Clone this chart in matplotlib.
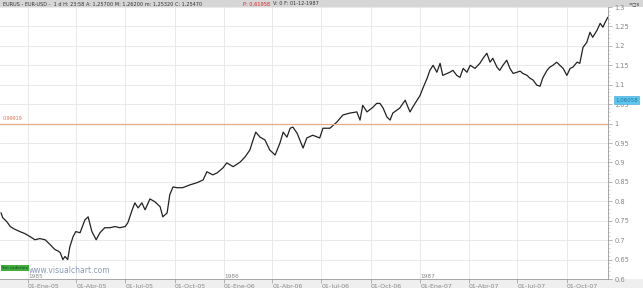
import matplotlib.pyplot as plt
from matplotlib.patches import Rectangle

# days counted from 01-Ene-05
days = [-50, -47, -39, -33, -26, -15, -6, 4, 13, 22, 32, 41, 50, 56, 60, 65, 69, 74, 78, 84,
        89, 97, 106, 112, 119, 127, 134, 143, 153, 162, 171, 181, 186, 194, 199, 205, 212, 218, 227, 236,
        246, 251, 259, 264, 270, 277, 288, 301, 315, 326, 333, 344, 352, 363, 370, 382, 395, 404, 413, 419,
        424, 432, 441, 450, 460, 469, 475, 482, 488, 493, 501, 506, 512, 519, 530, 543, 549, 562, 575, 586,
        599, 612, 618, 623, 631, 642, 649, 655, 661, 668, 674, 679, 687, 692, 702, 711, 716, 724, 730, 735,
        743, 748, 754, 761, 767, 772, 780, 785, 791, 798, 804, 810, 817, 823, 832, 841, 847, 854, 860, 865,
        873, 878, 884, 891, 897, 903, 910, 916, 921, 929, 934, 940, 947, 953, 958, 966, 971, 977, 984, 990,
        996, 1003, 1009, 1014, 1022, 1027, 1033, 1040, 1046, 1051, 1059, 1065, 1070, 1074, 1079]
price = [0.770, 0.758, 0.747, 0.735, 0.729, 0.722, 0.717, 0.709, 0.701, 0.704, 0.701, 0.689, 0.676, 0.672, 0.668, 0.650, 0.658, 0.650, 0.683, 0.709,
         0.722, 0.719, 0.752, 0.760, 0.722, 0.701, 0.719, 0.732, 0.732, 0.735, 0.732, 0.735, 0.745, 0.778, 0.796, 0.783, 0.796, 0.778, 0.806, 0.799,
         0.786, 0.760, 0.770, 0.817, 0.837, 0.835, 0.835, 0.842, 0.848, 0.855, 0.876, 0.868, 0.873, 0.886, 0.899, 0.889, 0.901, 0.914, 0.932, 0.958,
         0.978, 0.965, 0.958, 0.932, 0.919, 0.950, 0.978, 0.965, 0.988, 0.991, 0.975, 0.958, 0.937, 0.963, 0.970, 0.963, 0.988, 0.988, 1.004, 1.022,
         1.027, 1.030, 1.009, 1.047, 1.030, 1.042, 1.052, 1.052, 1.040, 1.017, 1.009, 1.027, 1.035, 1.040, 1.060, 1.030, 1.042, 1.060, 1.073, 1.091,
         1.117, 1.137, 1.150, 1.132, 1.155, 1.124, 1.129, 1.132, 1.137, 1.124, 1.119, 1.142, 1.132, 1.150, 1.142, 1.155, 1.168, 1.181, 1.158, 1.168,
         1.145, 1.137, 1.150, 1.163, 1.142, 1.129, 1.132, 1.135, 1.129, 1.124, 1.117, 1.112, 1.099, 1.096, 1.117, 1.137, 1.145, 1.150, 1.158, 1.150,
         1.142, 1.124, 1.142, 1.145, 1.158, 1.155, 1.196, 1.209, 1.235, 1.222, 1.240, 1.258, 1.248, 1.260, 1.273]

tick_days = [0, 90, 181, 273, 365, 455, 546, 638, 730, 820, 911, 1003]
tick_labels = ['01-Ene-05', '01-Abr-05', '01-Jul-05', '01-Oct-05', '01-Ene-06', '01-Abr-06',
               '01-Jul-06', '01-Oct-06', '01-Ene-07', '01-Abr-07', '01-Jul-07', '01-Oct-07']
year_days = [0, 365, 730]
year_labels = ['1985', '1986', '1987']
level = 1.0
level_label = '0,99919'
last_label = '1,06058'

fig = plt.figure(figsize=(6.43, 2.88), dpi=100, facecolor='white')

# header and bottom bands (behind the axes)
fig.patches.append(Rectangle((0, 1 - 7 / 288), 1, 7 / 288, transform=fig.transFigure,
                             facecolor='#d6d6d6', edgecolor='none', zorder=-5))
fig.patches.append(Rectangle((0, 0), 1, 9 / 288, transform=fig.transFigure,
                             facecolor='#efefef', edgecolor='none', zorder=-5))

ax = fig.add_axes([0, 9 / 288, 608 / 643, 272 / 288])
ax.patch.set_alpha(0)
ax.plot(days, price, color='#222222', lw=0.9)
ax.axhline(level, color='#e8a88a', lw=0.9)
ax.text(-48, level + 0.006, level_label, color='#e07050', fontsize=3.5, va='bottom')

ax.set_xlim(-52, 1079.5)
ax.set_ylim(0.6, 1.3)
ax.set_yticks([0.6 + 0.05 * i for i in range(15)])
ax.set_yticklabels(['%g' % round(0.6 + 0.05 * i, 2) for i in range(15)])
ax.set_yticks([0.6 + 0.01 * i for i in range(71)], minor=True)
ax.yaxis.tick_right()
ax.tick_params(axis='y', which='major', labelsize=4.8, labelcolor='#888888', color='#999999',
               length=3, width=0.5, pad=1.5)
ax.tick_params(axis='y', which='minor', color='#bbbbbb', length=1.5, width=0.4)
ax.set_xticks(tick_days)
ax.set_xticklabels(tick_labels, ha='left')
ax.tick_params(axis='x', labelsize=4.5, labelcolor='#888888', color='#999999',
               length=3, width=0.5, pad=0.3, direction='out')
ax.grid(True, color='#e6e6e6', lw=0.6)

for d, lab in zip(year_days, year_labels):
    ax.text(d + 1, 0.601, lab, fontsize=4.2, color='#888888', va='bottom', ha='left')
ax.text(2, 0.611, 'www.visualchart.com', fontsize=5.5, color='#8a98b8', va='bottom')
ax.text(-48, 0.628, 'Sin órdenes', fontsize=3.2, color='#114411', va='center',
        bbox=dict(boxstyle='square,pad=0.15', facecolor='#3fae3f', edgecolor='none'))
ax.text(1.012, 1.06, last_label, transform=ax.get_yaxis_transform(), fontsize=4,
        color='#2a6f9a', va='center', ha='left',
        bbox=dict(boxstyle='square,pad=0.25', facecolor='#5cc8f0', edgecolor='#3aa0d0', lw=0.4))

for s in ['top', 'left']:
    ax.spines[s].set_visible(False)
for s in ['right', 'bottom']:
    ax.spines[s].set_color('#999999')
    ax.spines[s].set_linewidth(0.6)

fig.text(0.004, 1 - 3.8 / 288, 'EURUS - EUR-USD -  1 d H: 23:58 A: 1,25700 M: 1,26200 m: 1,25320 C: 1,25470',
         fontsize=3.6, color='#333333', va='center')
fig.text(0.378, 1 - 3.8 / 288, 'P: 0,61958', fontsize=3.6, color='#dd2222', va='center')
fig.text(0.425, 1 - 3.8 / 288, 'V: 0 F: 01-12-1987', fontsize=3.6, color='#333333', va='center')
fig.text(0.995, 1 - 3.8 / 288, '=◻x', fontsize=3.6, color='#333333', va='center', ha='right')

fig.savefig('out.png', dpi=100, facecolor=fig.get_facecolor())
